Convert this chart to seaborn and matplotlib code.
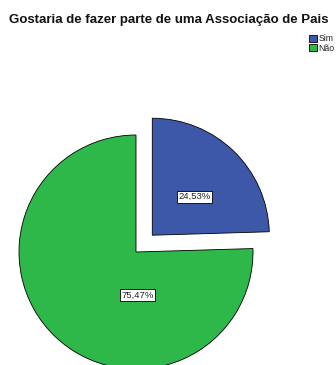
import matplotlib
matplotlib.use("Agg")
import matplotlib.pyplot as plt
import seaborn as sns
import numpy as np
from matplotlib.patches import Patch

sns.set_theme(style="white")
plt.rcParams['font.family'] = ['Liberation Sans', 'DejaVu Sans']

title = "Gostaria de fazer parte de uma Associação de Pais"
categories = ["Sim", "Não"]
values = [24.53, 75.47]
colors = ["#3D57A9", "#2FB84A"]
explode = [0.2, 0.0]

W, H = 336, 365
fig = plt.figure(figsize=(W / 100, H / 100), dpi=100)
ax = fig.add_axes([0, 0, 1, 1])

# pixel geometry: pie centre and radius
cx, cy, R = 136.0, 252.0, 117.0

wedges, _ = ax.pie(values, colors=colors, explode=explode, startangle=90,
                   counterclock=False, radius=1.0,
                   wedgeprops=dict(edgecolor="black", linewidth=0.6))

ax.set_aspect("auto")
ax.set_xlim(-cx / R, (W - cx) / R)
ax.set_ylim((cy - H) / R, cy / R)
ax.axis("off")

# percentage labels
offsets = [(0.36, 0.33), (0.01, -0.37)]
for w, v, off in zip(wedges, values, offsets):
    x0, y0 = w.center
    lbl = f"{v:.2f}%".replace(".", ",")
    ax.text(x0 + off[0], y0 + off[1], lbl, ha="center", va="center",
            fontsize=6.8, color="#222222",
            bbox=dict(boxstyle="square,pad=0.15", facecolor="white",
                      edgecolor="black", linewidth=0.6))

fig.text(9 / W, 1 - 20 / H, title, ha="left", va="center",
         fontsize=9.5, fontweight="bold", color="#111111")

handles = [Patch(facecolor=c, edgecolor="black", linewidth=0.6) for c in colors]
leg = fig.legend(handles, categories, loc="upper right",
                 bbox_to_anchor=(1 + 4 / W, 1 - 29 / H), frameon=False,
                 fontsize=6.3, handlelength=0.9, handleheight=0.9,
                 handletextpad=0.15, labelspacing=0.05, borderpad=0.1)

fig.savefig("out.png", dpi=100, facecolor="white")
